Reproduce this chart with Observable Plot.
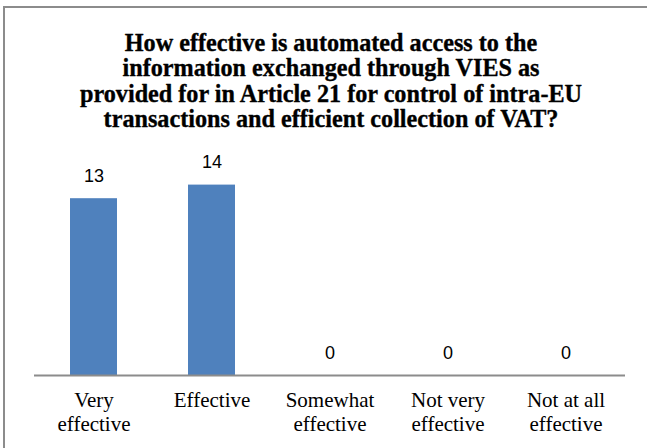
<!DOCTYPE html>
<html>
<head>
<meta charset="utf-8">
<script src="https://cdn.jsdelivr.net/npm/d3@7"></script>
<script src="https://cdn.jsdelivr.net/npm/@observablehq/plot@0.6"></script>
<style>
  html, body { margin: 0; padding: 0; background: #fff; overflow: hidden; }
  #wrap { position: relative; width: 647px; height: 448px; overflow: hidden; background: #fff; }
  #bleft { position: absolute; left: 3px; top: 6px; width: 2px; height: 442px; background: #8c8c8c; }
  #btop { position: absolute; left: 3px; top: 6px; width: 644px; height: 2px; background: #8c8c8c; }
  #chart { position: absolute; left: 0; top: 0; }
</style>
</head>
<body>
<div id="wrap">
  <div id="bleft"></div>
  <div id="btop"></div>
  <div id="chart"></div>
</div>
<script>
const titleLines = [
  "How effective is automated access to the",
  "information exchanged through VIES as",
  "provided for in Article 21 for control of intra-EU",
  "transactions and efficient collection of VAT?"
];
const categories = ["Very effective", "Effective", "Somewhat effective", "Not very effective", "Not at all effective"];
const tickLabels = ["Very\neffective", "Effective", "Somewhat\neffective", "Not very\neffective", "Not at all\neffective"];
const values = [13, 14, 0, 0, 0];
const yMax = 16;

const data = categories.map((c, i) => ({cat: c, label: tickLabels[i], value: values[i]}));

const chart = Plot.plot({
  width: 647,
  height: 448,
  marginLeft: 34,
  marginRight: 22,
  marginTop: 157.4,
  marginBottom: 73,
  style: {background: "transparent"},
  x: {domain: categories, paddingInner: 0.6, paddingOuter: 0.3, axis: null},
  y: {domain: [0, yMax], axis: null},
  marks: [
    Plot.text([titleLines.join("\n")], {frameAnchor: "top", lineAnchor: "top", dy: -125.5, dx: 1,
      fontFamily: "Liberation Serif, Times New Roman, serif", fontWeight: "bold", fontSize: 24.2, lineHeight: 1.054,
      fill: "#000", stroke: "#000", strokeWidth: 0.35}),
    Plot.barY(data, {x: "cat", y: "value", fill: "#4F81BD"}),
    Plot.ruleY([0], {stroke: "#8c8c8c", strokeWidth: 2}),
    Plot.text(data, {x: "cat", y: "value", text: d => String(d.value), lineAnchor: "bottom", dy: -17,
      fontFamily: "Liberation Sans, Arial, sans-serif", fontSize: 18, fill: "#000"}),
    Plot.text(data, {x: "cat", y: 0, text: "label", lineAnchor: "top", dy: 15, lineHeight: 1.12,
      fontFamily: "Liberation Serif, Times New Roman, serif", fontSize: 21, fill: "#000"})
  ]
});
document.getElementById("chart").appendChild(chart);
</script>
</body>
</html>
